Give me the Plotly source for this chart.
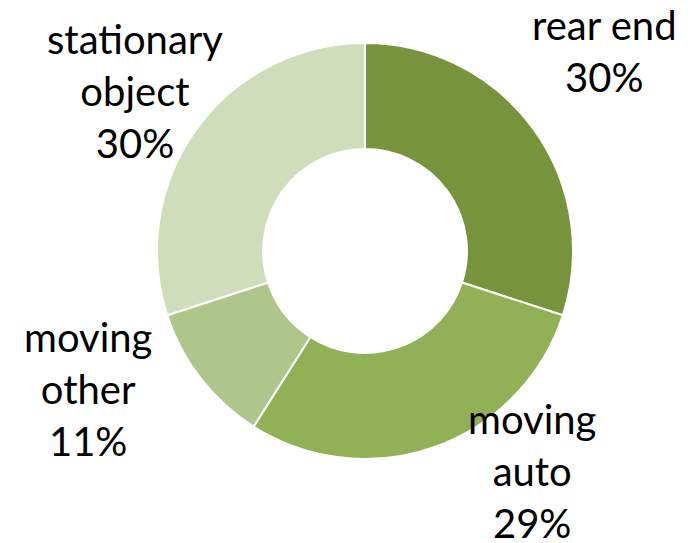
import plotly.graph_objects as go

categories = ["rear end", "moving auto", "moving other", "stationary object"]
values = [30, 29, 11, 30]
label_lines = ["rear end<br>30%", "moving<br>auto<br>29%", "moving<br>other<br>11%", "stationary<br>object<br>30%"]
colors = ["#77933C", "#92B055", "#AEC689", "#D0DDBA"]

W, H = 690, 543
fig = go.Figure(go.Pie(
    labels=categories,
    values=values,
    hole=0.49,
    sort=False,
    direction="clockwise",
    rotation=0,
    marker=dict(colors=colors, line=dict(color="white", width=2)),
    textinfo="none",
    hoverinfo="label+percent",
    showlegend=False,
    domain=dict(x=[157 / W, 573 / W], y=[1 - 459 / H, 1 - 43 / H]),
))

# label anchor positions (pixels: center x, center y)
label_pos = [(604, 51), (532, 471), (88, 389), (135, 91)]
for txt, (px, py) in zip(label_lines, label_pos):
    fig.add_annotation(
        text=txt, x=px / W, y=1 - py / H, xref="paper", yref="paper",
        xanchor="center", yanchor="middle", showarrow=False, align="center",
        font=dict(family="Lato", size=40, color="black"),
    )

fig.update_layout(
    width=W, height=H,
    margin=dict(l=0, r=0, t=0, b=0),
    paper_bgcolor="white", plot_bgcolor="white",
)
fig.write_html("out.html", config={"displayModeBar": False},
               post_script="document.body.style.margin='0';")
